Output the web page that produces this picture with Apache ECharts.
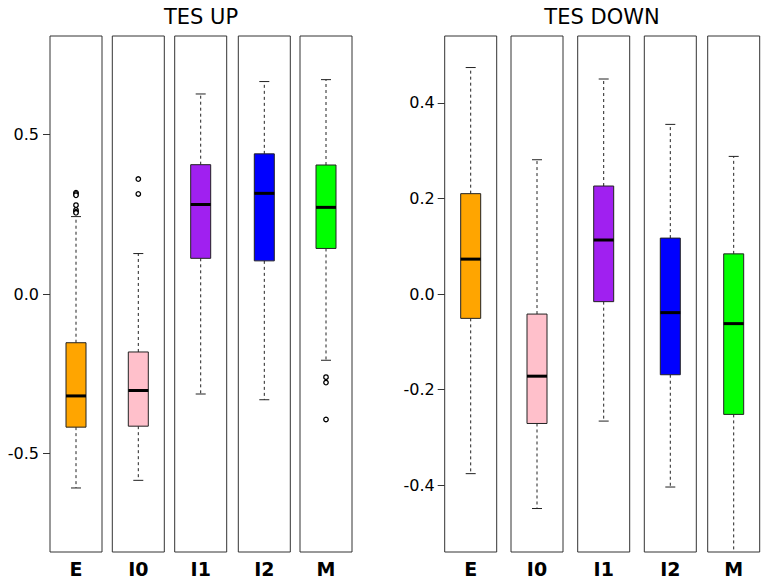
<!DOCTYPE html>
<html><head><meta charset="utf-8">
<script src="https://cdn.jsdelivr.net/npm/echarts@6/dist/echarts.min.js"></script>
<style>html,body{margin:0;padding:0;background:#fff}#c{width:765px;height:580px}</style>
</head><body><div id="c"></div><script>
// ---- data ----
const categories = ['E', 'I0', 'I1', 'I2', 'M'];

const upWhiskerLow  = [-0.609, -0.585, -0.314, -0.332, -0.208];
const upQ1          = [-0.418, -0.415,  0.112,  0.104,  0.143];
const upMedian      = [-0.320, -0.303,  0.281,  0.316,  0.272];
const upQ3          = [-0.153, -0.182,  0.406,  0.440,  0.405];
const upWhiskerHigh = [ 0.243,  0.127,  0.628,  0.667,  0.673];
const upOutliers    = [[0.318, 0.314, 0.310, 0.279, 0.264, 0.258, 0.255], [0.361, 0.314], [], [], [-0.261, -0.278, -0.394]];

const downWhiskerLow  = [-0.376, -0.449, -0.266, -0.404, -0.570];
const downQ1          = [-0.051, -0.271, -0.016, -0.169, -0.252];
const downMedian      = [ 0.073, -0.172,  0.113, -0.039, -0.062];
const downQ3          = [ 0.210, -0.042,  0.226,  0.117,  0.084];
const downWhiskerHigh = [ 0.474,  0.281,  0.450,  0.355,  0.288];
const downOutliers    = [[], [], [], [], []];

const upTicks   = [-0.5, 0, 0.5];
const downTicks = [-0.4, -0.2, 0, 0.2, 0.4];

// ---- styles / layout ----
const boxColors = ['#FFA500', '#FFC0CB', '#A020F0', '#0000FF', '#00FF00'];
const panels = [
  { title: 'TES UP', cx: 201, lefts: [50, 112.3, 174.7, 238.3, 300], min: -0.81, max: 0.81, ticks: upTicks,
    lo: upWhiskerLow, q1: upQ1, med: upMedian, q3: upQ3, hi: upWhiskerHigh, out: upOutliers, labelMargin: 11 },
  { title: 'TES DOWN', cx: 602, lefts: [444.7, 511, 577.7, 644.3, 707.7], min: -0.54, max: 0.54, ticks: downTicks,
    lo: downWhiskerLow, q1: downQ1, med: downMedian, q3: downQ3, hi: downWhiskerHigh, out: downOutliers, labelMargin: 10 }
];

function renderBox(params, api) {
  const cs = params.coordSys;
  const bottom = cs.y + cs.height, top = cs.y;
  const x = api.coord([0, api.value(3)])[0];
  const yLoRaw = api.coord([0, api.value(1)])[1];
  const yHiRaw = api.coord([0, api.value(5)])[1];
  const yLo = Math.min(yLoRaw, bottom - 1);
  const yHi = Math.max(yHiRaw, top + 1);
  const yQ1 = api.coord([0, api.value(2)])[1];
  const yMed = api.coord([0, api.value(3)])[1];
  const yQ3 = api.coord([0, api.value(4)])[1];
  const hw = 10, cw = 5;
  const dashStyle = { stroke: '#222', lineWidth: 1, lineDash: [3, 3] };
  const solid = { stroke: '#222', lineWidth: 1 };
  const children = [
    { type: 'line', shape: { x1: x, y1: yQ3, x2: x, y2: yHi }, style: dashStyle },
    { type: 'line', shape: { x1: x, y1: yQ1, x2: x, y2: yLo }, style: dashStyle }
  ];
  if (yHiRaw >= top) children.push({ type: 'line', shape: { x1: x - cw, y1: yHi, x2: x + cw, y2: yHi }, style: solid });
  if (yLoRaw <= bottom) children.push({ type: 'line', shape: { x1: x - cw, y1: yLo, x2: x + cw, y2: yLo }, style: solid });
  children.push({ type: 'rect', shape: { x: x - hw, y: yQ3, width: 2 * hw, height: yQ1 - yQ3 },
    style: { fill: api.visual('color'), stroke: '#222', lineWidth: 1 } });
  children.push({ type: 'line', shape: { x1: x - hw, y1: yMed, x2: x + hw, y2: yMed }, style: { stroke: '#000', lineWidth: 3 } });
  return { type: 'group', children };
}

const grid = [], xAxis = [], yAxis = [], series = [], graphic = [];
panels.forEach((p) => {
  graphic.push({ type: 'text', x: p.cx, y: 16.5,
    style: { text: p.title, font: '21px "DejaVu Sans"', fill: '#000', align: 'center', verticalAlign: 'middle' } });
  categories.forEach((cat, i) => {
    const gi = grid.length;
    grid.push({ left: p.lefts[i], top: 36, width: 52, height: 516, show: true, borderColor: '#333', borderWidth: 1, backgroundColor: 'transparent' });
    xAxis.push({ gridIndex: gi, type: 'category', data: [cat],
      axisLine: { show: false }, axisTick: { show: false }, splitLine: { show: false },
      axisLabel: { show: true, interval: 0, margin: 7, color: '#000', fontSize: 19, lineHeight: 19, fontWeight: 'bold', fontFamily: 'DejaVu Sans' } });
    yAxis.push({ gridIndex: gi, type: 'value', min: p.min, max: p.max,
      axisLine: { show: false }, splitLine: { show: false },
      axisTick: { show: i === 0, length: 7, customValues: p.ticks, lineStyle: { color: '#333' } },
      axisLabel: { show: i === 0, customValues: p.ticks, formatter: v => v.toFixed(1), margin: p.labelMargin,
        fontSize: 16, color: '#000', fontFamily: 'DejaVu Sans' } });
    series.push({ type: 'custom', xAxisIndex: gi, yAxisIndex: gi, clip: true, silent: true,
      itemStyle: { color: boxColors[i] },
      data: [[0, p.lo[i], p.q1[i], p.med[i], p.q3[i], p.hi[i]]], renderItem: renderBox });
    if (p.out[i].length) {
      series.push({ type: 'scatter', xAxisIndex: gi, yAxisIndex: gi, silent: true,
        data: p.out[i].map(v => [0, v]), symbol: 'circle', symbolSize: 4.5,
        itemStyle: { color: '#fff', borderColor: '#000', borderWidth: 1.3, opacity: 1 } });
    }
  });
});

const chart = echarts.init(document.getElementById('c'), null, { renderer: 'svg' });
chart.setOption({ animation: false, backgroundColor: '#fff', grid, xAxis, yAxis, series, graphic });
</script></body></html>
